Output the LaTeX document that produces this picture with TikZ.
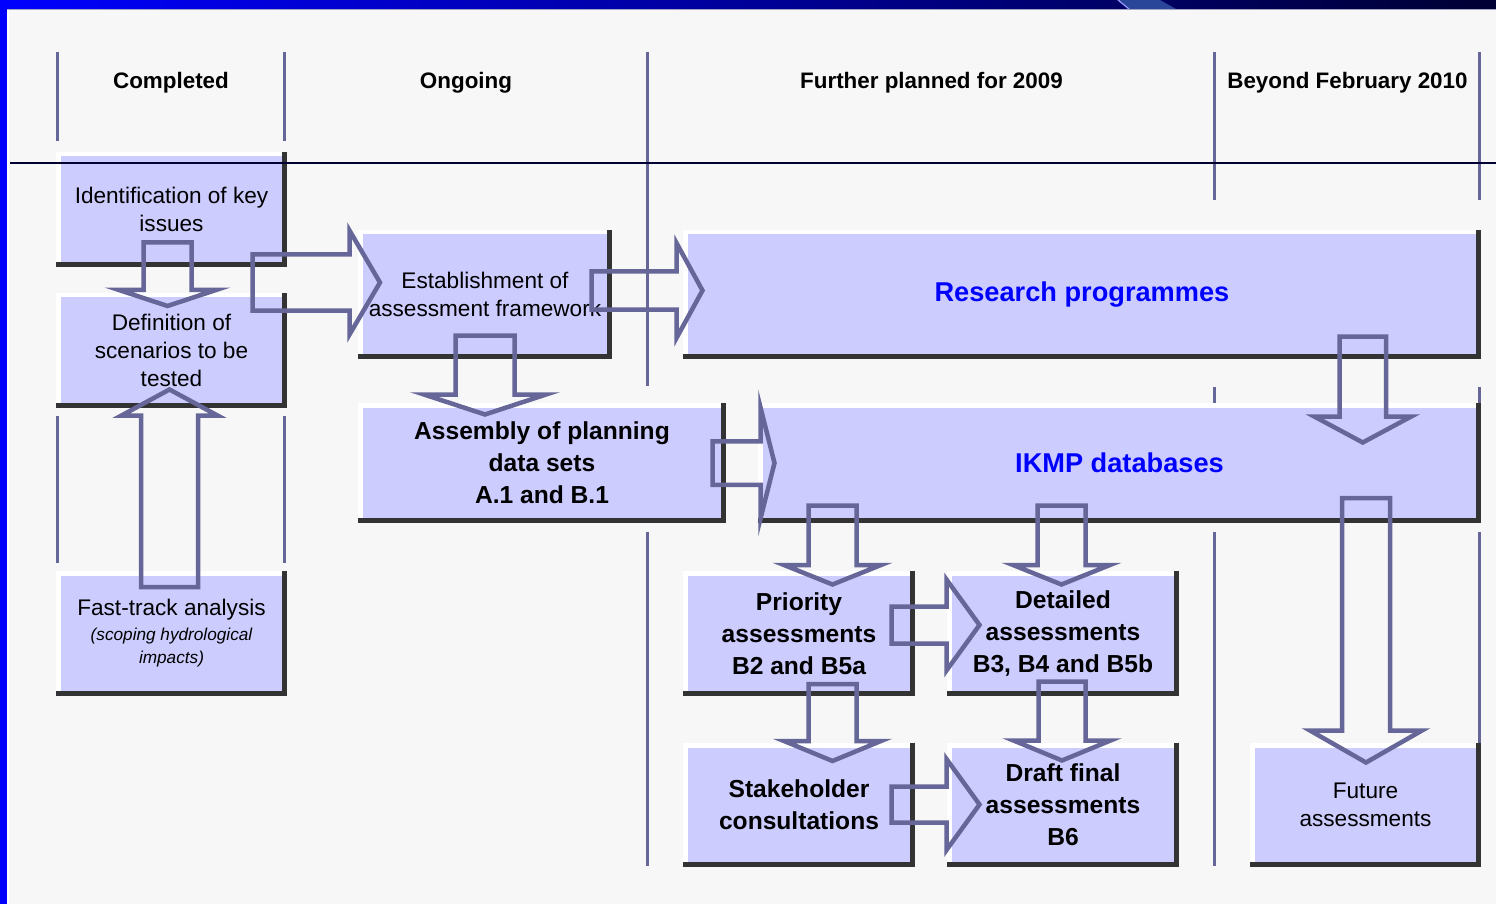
\documentclass[tikz,border=0pt]{standalone}
\usepackage{fontspec}
\setmainfont{Liberation Sans}
\usetikzlibrary{calc}

\definecolor{slidebg}{HTML}{F7F7F7}
\definecolor{boxfill}{HTML}{CCCCFF}
\definecolor{arrowc}{HTML}{666699}
\definecolor{edgec}{HTML}{333333}
\definecolor{barnavy}{HTML}{000033}
\definecolor{stripec}{HTML}{2A4699}
\definecolor{textblue}{HTML}{0000FF}

\newcommand{\stagerm}{\fontsize{11.3}{14}\selectfont}
\newcommand{\stagebf}{\fontsize{12.3}{16}\selectfont\bfseries}
\newcommand{\headbf}{\fontsize{11.2}{13.5}\selectfont\bfseries}
\newcommand{\bigbf}{\fontsize{13.6}{16}\selectfont\bfseries}
\newcommand{\noteit}{\fontsize{8.6}{11.5}\selectfont\itshape}

\begin{document}
\begin{tikzpicture}[x=0.5pt, y=-0.5pt,
  stage/.style={draw=white, line width=2.25pt, fill=boxfill, inner sep=0pt,
    outer sep=0pt, align=center, font=\stagerm},
  bstage/.style={stage, font=\stagebf},
  boxedge/.style={draw=edgec, line width=2.5pt, line cap=rect},
  vline/.style={draw=arrowc, line width=1.5pt},
  hollow/.style n args={3}{draw=arrowc, line width=2.25pt, to path={
    let \p1=(\tikztostart), \p2=(\tikztotarget), \n1={atan2(\y2-\y1,\x2-\x1)} in
    ([shift={(\p1)},rotate=\n1]0,#1) -- ([shift={(\p2)},rotate=\n1]-#3,#1)
    -- ([shift={(\p2)},rotate=\n1]-#3,#2) -- (\p2)
    -- ([shift={(\p2)},rotate=\n1]-#3,-#2) -- ([shift={(\p2)},rotate=\n1]-#3,-#1)
    -- ([shift={(\p1)},rotate=\n1]0,-#1) -- cycle}}]

  \useasboundingbox (0,0) rectangle (1496,904);
  % slide background and frame
  \fill[slidebg] (0,0) rectangle (1496,904);
  \shade[left color=textblue, right color=barnavy] (0,0) rectangle (1496,9);
  \fill[stripec] (1118,0) -- (1160,0) -- (1176,9) -- (1129,9) -- cycle;
  \draw[textblue!40!white, line width=0.6pt] (1118,0) -- (1129,9);
  \draw[arrowc!60!white, line width=0.5pt] (7,9.5) -- (1496,9.5);
  \fill[textblue] (0,0) rectangle (7,904);
  \fill[white] (7,10) rectangle (8.5,904);

  % column headings
  \node[font=\headbf] (hcomp) at (171,83) {Completed};
  \node[font=\headbf] (hongo) at (466,83) {Ongoing};
  \node[font=\headbf] (hplan) at (931.5,83) {Further planned for 2009};
  \node[font=\headbf] (hbeyo) at (1347.5,83) {Beyond February 2010};

  % column separators
  \foreach \x/\a/\b in {57/52/141, 284.5/52/141, 57/416/563, 284.5/416/563,
      647/52/386, 647/532/866, 1214/52/200, 1214/387/410, 1214/532/866,
      1479/52/200, 1479/387/410, 1479/532/866}
    \draw[vline] (\x,\a) -- (\x,\b);

  % stages
  \node[stage, minimum width=113.25pt, minimum height=55.25pt] (ident) at (171.5,209.5)
    {Identification of key\\issues};
  \node[stage, minimum width=113.25pt, minimum height=55.25pt] (defn) at (171.5,350.5)
    {Definition of\\scenarios to be\\tested};
  \node[stage, minimum width=113.25pt, minimum height=60.25pt] (fast) at (171.5,633.5)
    {Fast-track analysis\\[-1.5pt]\noteit (scoping hydrological\\[-2.5pt]\noteit impacts)};
  \node[stage, minimum width=124.75pt, minimum height=62.25pt] (estab) at (485,294.5)
    {Establishment of\\assessment framework};
  \node[stage, minimum width=396.75pt, minimum height=62.25pt] (research) at (1082,294.5)
    {\bigbf\color{textblue}Research programmes};
  \node[bstage, minimum width=181.75pt, minimum height=57.75pt] (assembly) at (542,463)
    {Assembly of planning\\data sets\\A.1 and B.1};
  \node[stage, minimum width=359.25pt, minimum height=57.75pt] (ikmp) at (1119.5,463)
    {\bigbf\color{textblue}IKMP databases};
  \node[bstage, minimum width=113.75pt, minimum height=60.25pt] (priority) at (799,633.5)
    {Priority\\assessments\\B2 and B5a};
  \node[bstage, minimum width=113.75pt, minimum height=60.25pt] (detailed) at (1063,633.5)
    {Detailed\\assessments\\B3, B4 and B5b};
  \node[bstage, minimum width=113.75pt, minimum height=59.75pt] (stake) at (799,805)
    {Stakeholder\\consultations};
  \node[bstage, minimum width=113.75pt, minimum height=59.75pt] (draft) at (1063,805)
    {Draft final\\assessments\\B6};
  \node[stage, minimum width=113.25pt, minimum height=59.75pt] (future) at (1365.5,805)
    {Future\\assessments};

  \foreach \n in {ident,defn,fast,estab,research,assembly,ikmp,priority,detailed,stake,draft,future}
    \draw[boxedge] (\n.north east) -- (\n.south east) -- (\n.south west);

  \draw[barnavy, line width=0.6pt] (10,163) -- (1496,163);

  % block arrows
  \draw[hollow={24}{48.5}{16}] ($(ident.south)+(-4,-22.25)$) to ($(defn.north)+(-4,10.75)$);
  \draw[hollow={28.5}{48}{26}] ($(fast.north)+(-2,13.75)$) to ($(defn.south)+(-2,-16.25)$);
  \draw[hollow={28}{52}{30.5}] ($(ident.south east)+(-32.25,17.75)$) to ($(estab.west)+(19.75,-12)$);
  \draw[hollow={29.5}{61}{20}] ($(estab.south)+(0,-21.25)$) to ($(assembly.north)+(-57,9.25)$);
  \draw[hollow={19}{47.5}{26}] ($(estab.east)+(-18.25,-4)$) to ($(research.west)+(17.25,-4)$);
  \draw[hollow={21.75}{55.5}{14}] ($(assembly.east)+(-11.25,0)$) to ($(ikmp.west)+(14.25,0)$);
  \draw[hollow={23.25}{48.5}{26}] ($(research.south east)+(-116,-20.25)$) to ($(ikmp.north east)+(-116,37.25)$);
  \draw[hollow={24}{56}{32}] ($(ikmp.south east)+(-112.75,-22.75)$) to ($(future.north)+(0.5,17.25)$);
  \draw[hollow={24}{48.5}{19.5}] ($(ikmp.south west)+(72.25,-15.25)$) to ($(priority.north)+(33.5,11.25)$);
  \draw[hollow={24}{48.5}{19.5}] ($(ikmp.south)+(-58,-15.25)$) to ($(detailed.north)+(-1.5,11.25)$);
  \draw[hollow={24}{48.5}{20}] ($(priority.south)+(33.5,-9.75)$) to ($(stake.north)+(33.5,15.75)$);
  \draw[hollow={23.5}{48.5}{20}] ($(detailed.south)+(-1,-12.25)$) to ($(draft.north)+(-1,15.25)$);
  \draw[hollow={18.5}{45.5}{33}] ($(priority.east)+(-21.25,-8.5)$) to ($(detailed.west)+(30.25,-8.5)$);
  \draw[hollow={18}{45.5}{33}] ($(stake.east)+(-21.25,-0.5)$) to ($(draft.west)+(30.25,-0.5)$);
\end{tikzpicture}
\end{document}
